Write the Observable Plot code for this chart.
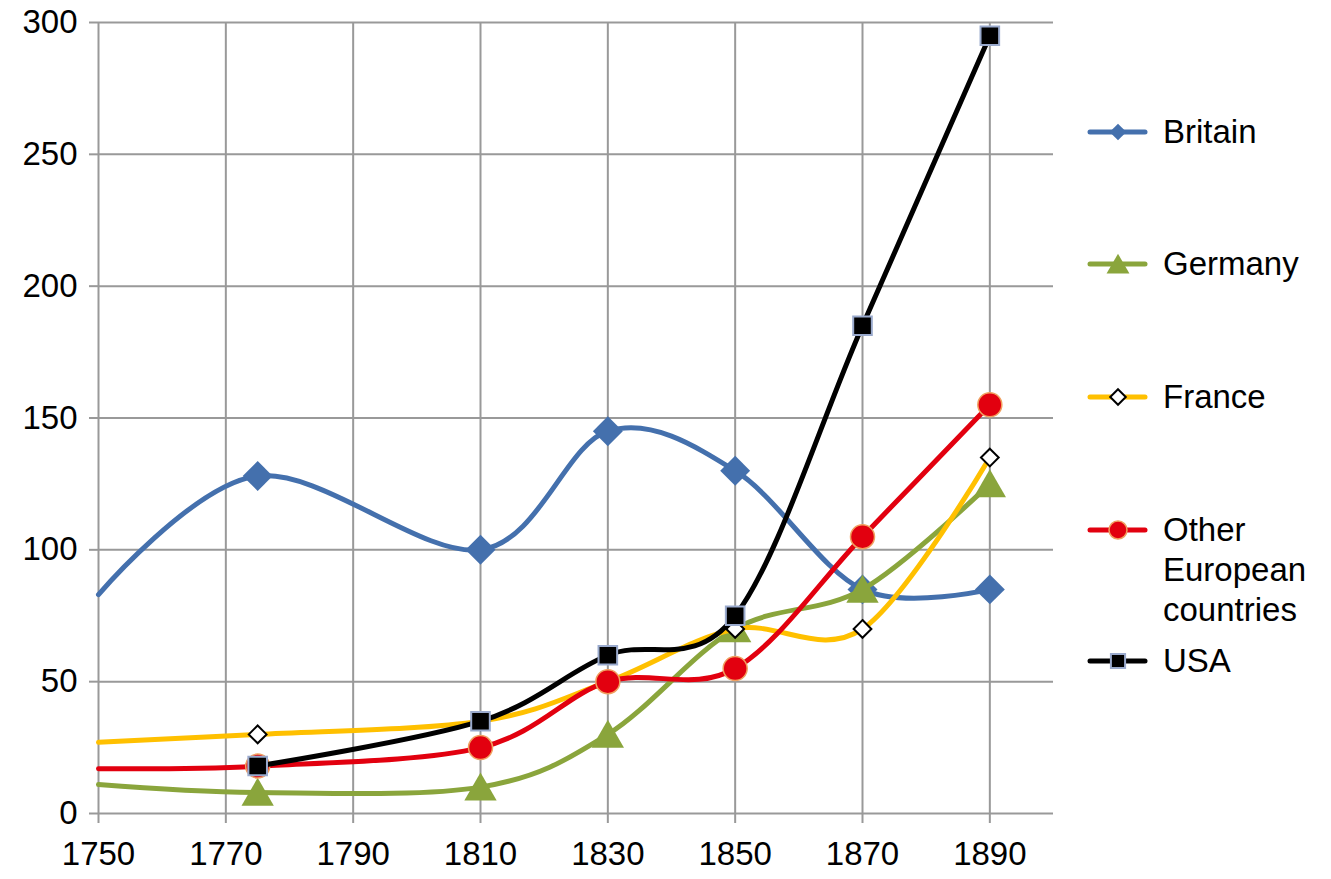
<!DOCTYPE html>
<html>
<head>
<meta charset="utf-8">
<script src="https://cdn.jsdelivr.net/npm/d3@7"></script>
<script src="https://cdn.jsdelivr.net/npm/@observablehq/plot@0.6"></script>
<style>
  html, body { margin: 0; padding: 0; background: #fff; }
  #wrap { position: relative; width: 1331px; height: 879px; font-family: "Liberation Sans", Arial, Helvetica, sans-serif; }
  #legend { position: absolute; left: 0; top: 0; pointer-events: none; }
</style>
</head>
<body>
<div id="wrap"></div>
<script>
// ---- data ----
const years = [1750, 1775, 1810, 1830, 1850, 1870, 1890];
const britain = [83, 128, 100, 145, 130, 85, 85];
const germany = [11, 8, 10, 30, 70, 85, 125];
const france = [27, 30, 35, 50, 70, 70, 135];
const otherEurope = [17, 18, 25, 50, 55, 105, 155];
const usa = [null, 18, 35, 60, 75, 185, 295];
const seriesNames = ["Britain", "Germany", "France", "Other European countries", "USA"];
const xTicks = [1750, 1770, 1790, 1810, 1830, 1850, 1870, 1890];
const yTicks = [0, 50, 100, 150, 200, 250, 300];

// ---- styles ----
const styles = {
  "Britain": {line: "#4470ad", symbol: "diamond2", r: 13.5, fill: "#4470ad", stroke: "none", sw: 0, dy: 0, legR: 7.5},
  "Germany": {line: "#8aa53c", symbol: "triangle", r: 12, fill: "#8aa53c", stroke: "none", sw: 0, dy: 4, legR: 8.5},
  "France": {line: "#ffc000", symbol: "diamond2", r: 8, fill: "#ffffff", stroke: "#000000", sw: 2, dy: 0, legR: 7},
  "Other European countries": {line: "#e2000f", symbol: "circle", r: 12, fill: "#e2000f", stroke: "#f0a060", sw: 1.5, dy: 0, legR: 9},
  "USA": {line: "#000000", symbol: "square", r: 10.5, fill: "#000000", stroke: "#9aaacd", sw: 2, dy: 0, legR: 8}
};

const valueLists = [britain, germany, france, otherEurope, usa];
const rows = [];
seriesNames.forEach((name, si) => {
  years.forEach((yr, i) => {
    const v = valueLists[si][i];
    if (v != null) rows.push({series: name, year: yr, value: v});
  });
});

const xDomain = [1750, 1900];
const font = '"Liberation Sans", Arial, Helvetica, sans-serif';
const fs = 33;

const marks = [
  Plot.gridX(xTicks, {stroke: "#999", strokeOpacity: 1, strokeWidth: 2}),
  Plot.gridY(yTicks, {stroke: "#999", strokeOpacity: 1, strokeWidth: 2}),
  Plot.axisX(xTicks, {tickSize: 10, tickPadding: 18, stroke: "#999", strokeWidth: 2, fill: "#000",
                      fontSize: fs, tickFormat: d => String(d), label: null}),
  Plot.axisY(yTicks, {tickSize: 9, tickPadding: 12, stroke: "#999", strokeWidth: 2, fill: "#000",
                      fontSize: fs, tickFormat: d => String(d), label: null})
];

seriesNames.forEach(name => {
  const s = styles[name];
  const data = rows.filter(d => d.series === name);
  marks.push(Plot.line(data, {x: "year", y: "value", stroke: s.line, strokeWidth: 5, curve: "cardinal"}));
  marks.push(Plot.dot(data.filter(d => d.year > xDomain[0]), {
    x: "year", y: "value", symbol: () => s.symbol, r: s.r, dy: s.dy,
    fill: s.fill, stroke: s.stroke, strokeWidth: s.sw
  }));
});

const chart = Plot.plot({
  width: 1331,
  height: 879,
  marginLeft: 98,
  marginRight: 278,
  marginTop: 22,
  marginBottom: 66,
  x: {domain: xDomain},
  y: {domain: [0, 300]},
  symbol: {type: "identity"},
  style: {fontFamily: font, fontSize: fs + "px", background: "white", overflow: "visible", color: "#000"},
  marks
});
document.getElementById("wrap").appendChild(chart);

// ---- legend ----
const legend = d3.select("#wrap").append("svg")
  .attr("id", "legend").attr("width", 1331).attr("height", 879);
const legRows = [
  {name: "Britain", y: 132, lines: ["Britain"]},
  {name: "Germany", y: 264, lines: ["Germany"]},
  {name: "France", y: 397, lines: ["France"]},
  {name: "Other European countries", y: 530, lines: ["Other", "European", "countries"]},
  {name: "USA", y: 661, lines: ["USA"]}
];
const symMap = {diamond2: d3.symbolDiamond2, triangle: d3.symbolTriangle, circle: d3.symbolCircle, square: d3.symbolSquare};
legRows.forEach(row => {
  const s = styles[row.name];
  const g = legend.append("g");
  g.append("line").attr("x1", 1090).attr("x2", 1145).attr("y1", row.y).attr("y2", row.y)
    .attr("stroke", s.line).attr("stroke-width", 5).attr("stroke-linecap", "round");
  g.append("path").attr("transform", `translate(1118,${row.y + (s.dy ? 3 : 0)})`)
    .attr("d", d3.symbol(symMap[s.symbol], Math.PI * s.legR * s.legR)())
    .attr("fill", s.fill).attr("stroke", s.stroke).attr("stroke-width", s.sw);
  row.lines.forEach((t, i) => {
    g.append("text").attr("x", 1163).attr("y", row.y + 11 + i * 40)
      .attr("font-family", font).attr("font-size", fs).attr("fill", "#000").text(t);
  });
});
</script>
</body>
</html>
